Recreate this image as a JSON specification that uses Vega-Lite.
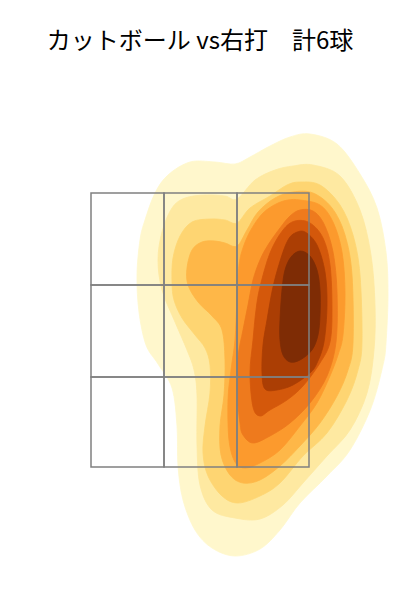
{
  "$schema": "https://vega.github.io/schema/vega-lite/v6.json",
  "width": 400,
  "height": 520,
  "autosize": {"type": "none"},
  "padding": {"top": 80, "left": 0, "right": 0, "bottom": 0},
  "background": "white",
  "title": {"text": "カットボール vs右打　計6球", "font": "Noto Sans CJK JP", "fontSize": 24, "fontWeight": "normal", "color": "#000000", "anchor": "middle", "frame": "group", "baseline": "bottom", "offset": 2},
  "config": {"view": {"stroke": null}},
  "datasets": {
    "contours": [
      {"level":1,"i":0,"x":0.88,"z":3.968},{"level":1,"i":1,"x":1.096,"z":3.888},{"level":1,"i":2,"x":1.28,"z":3.648},{"level":1,"i":3,"x":1.416,"z":3.376},{"level":1,"i":4,"x":1.488,"z":3.024},{"level":1,"i":5,"x":1.504,"z":2.68},{"level":1,"i":6,"x":1.488,"z":2.296},{"level":1,"i":7,"x":1.464,"z":2.12},{"level":1,"i":8,"x":1.368,"z":1.776},{"level":1,"i":9,"x":1.2,"z":1.44},{"level":1,"i":10,"x":1.016,"z":1.232},{"level":1,"i":11,"x":0.8,"z":1.016},{"level":1,"i":12,"x":0.64,"z":0.8},{"level":1,"i":13,"x":0.48,"z":0.648},{"level":1,"i":14,"x":0.28,"z":0.592},{"level":1,"i":15,"x":0.096,"z":0.656},{"level":1,"i":16,"x":-0.04,"z":0.8},{"level":1,"i":17,"x":-0.136,"z":1.04},{"level":1,"i":18,"x":-0.176,"z":1.312},{"level":1,"i":19,"x":-0.184,"z":1.632},{"level":1,"i":20,"x":-0.224,"z":1.936},{"level":1,"i":21,"x":-0.336,"z":2.128},{"level":1,"i":22,"x":-0.432,"z":2.28},{"level":1,"i":23,"x":-0.488,"z":2.544},{"level":1,"i":24,"x":-0.504,"z":2.84},{"level":1,"i":25,"x":-0.48,"z":3.12},{"level":1,"i":26,"x":-0.44,"z":3.28},{"level":1,"i":27,"x":-0.36,"z":3.496},{"level":1,"i":28,"x":-0.256,"z":3.64},{"level":1,"i":29,"x":-0.08,"z":3.744},{"level":1,"i":30,"x":0.12,"z":3.744},{"level":1,"i":31,"x":0.28,"z":3.728},{"level":1,"i":32,"x":0.4,"z":3.784},{"level":1,"i":33,"x":0.56,"z":3.872},{"level":1,"i":34,"x":0.72,"z":3.944},
      {"level":2,"i":0,"x":0.904,"z":3.72},{"level":2,"i":1,"x":1.12,"z":3.632},{"level":2,"i":2,"x":1.28,"z":3.36},{"level":2,"i":3,"x":1.368,"z":3.0},{"level":2,"i":4,"x":1.4,"z":2.6},{"level":2,"i":5,"x":1.392,"z":2.24},{"level":2,"i":6,"x":1.336,"z":1.896},{"level":2,"i":7,"x":1.2,"z":1.6},{"level":2,"i":8,"x":1.016,"z":1.392},{"level":2,"i":9,"x":0.824,"z":1.176},{"level":2,"i":10,"x":0.664,"z":1.0},{"level":2,"i":11,"x":0.48,"z":0.888},{"level":2,"i":12,"x":0.28,"z":0.896},{"level":2,"i":13,"x":0.096,"z":0.96},{"level":2,"i":14,"x":0.0,"z":1.16},{"level":2,"i":15,"x":-0.024,"z":1.48},{"level":2,"i":16,"x":-0.024,"z":1.88},{"level":2,"i":17,"x":-0.048,"z":2.08},{"level":2,"i":18,"x":-0.104,"z":2.24},{"level":2,"i":19,"x":-0.2,"z":2.464},{"level":2,"i":20,"x":-0.304,"z":2.72},{"level":2,"i":21,"x":-0.336,"z":2.96},{"level":2,"i":22,"x":-0.304,"z":3.184},{"level":2,"i":23,"x":-0.224,"z":3.376},{"level":2,"i":24,"x":-0.12,"z":3.456},{"level":2,"i":25,"x":0.04,"z":3.48},{"level":2,"i":26,"x":0.2,"z":3.472},{"level":2,"i":27,"x":0.296,"z":3.448},{"level":2,"i":28,"x":0.44,"z":3.6},{"level":2,"i":29,"x":0.6,"z":3.68},{"level":2,"i":30,"x":0.744,"z":3.712},
      {"level":3,"i":0,"x":0.8,"z":3.584},{"level":3,"i":1,"x":0.96,"z":3.56},{"level":3,"i":2,"x":1.12,"z":3.4},{"level":3,"i":3,"x":1.224,"z":3.16},{"level":3,"i":4,"x":1.28,"z":2.84},{"level":3,"i":5,"x":1.296,"z":2.304},{"level":3,"i":6,"x":1.264,"z":2.08},{"level":3,"i":7,"x":1.176,"z":1.84},{"level":3,"i":8,"x":1.016,"z":1.576},{"level":3,"i":9,"x":0.824,"z":1.392},{"level":3,"i":10,"x":0.64,"z":1.176},{"level":3,"i":11,"x":0.48,"z":1.072},{"level":3,"i":12,"x":0.304,"z":1.016},{"level":3,"i":13,"x":0.176,"z":1.072},{"level":3,"i":14,"x":0.064,"z":1.232},{"level":3,"i":15,"x":0.024,"z":1.416},{"level":3,"i":16,"x":0.04,"z":1.632},{"level":3,"i":17,"x":0.08,"z":1.896},{"level":3,"i":18,"x":0.08,"z":2.12},{"level":3,"i":19,"x":0.04,"z":2.256},{"level":3,"i":20,"x":-0.04,"z":2.36},{"level":3,"i":21,"x":-0.144,"z":2.496},{"level":3,"i":22,"x":-0.208,"z":2.64},{"level":3,"i":23,"x":-0.224,"z":2.784},{"level":3,"i":24,"x":-0.216,"z":2.976},{"level":3,"i":25,"x":-0.16,"z":3.152},{"level":3,"i":26,"x":-0.064,"z":3.264},{"level":3,"i":27,"x":0.08,"z":3.288},{"level":3,"i":28,"x":0.2,"z":3.28},{"level":3,"i":29,"x":0.296,"z":3.256},{"level":3,"i":30,"x":0.4,"z":3.376},{"level":3,"i":31,"x":0.56,"z":3.472},{"level":3,"i":32,"x":0.696,"z":3.56},
      {"level":4,"i":0,"x":0.744,"z":3.504},{"level":4,"i":1,"x":0.904,"z":3.496},{"level":4,"i":2,"x":1.056,"z":3.376},{"level":4,"i":3,"x":1.16,"z":3.16},{"level":4,"i":4,"x":1.216,"z":2.84},{"level":4,"i":5,"x":1.224,"z":2.296},{"level":4,"i":6,"x":1.184,"z":2.08},{"level":4,"i":7,"x":1.096,"z":1.872},{"level":4,"i":8,"x":0.96,"z":1.656},{"level":4,"i":9,"x":0.8,"z":1.472},{"level":4,"i":10,"x":0.64,"z":1.312},{"level":4,"i":11,"x":0.48,"z":1.2},{"level":4,"i":12,"x":0.344,"z":1.176},{"level":4,"i":13,"x":0.24,"z":1.24},{"level":4,"i":14,"x":0.168,"z":1.4},{"level":4,"i":15,"x":0.16,"z":1.632},{"level":4,"i":16,"x":0.192,"z":1.88},{"level":4,"i":17,"x":0.2,"z":2.16},{"level":4,"i":18,"x":0.176,"z":2.4},{"level":4,"i":19,"x":0.096,"z":2.512},{"level":4,"i":20,"x":-0.016,"z":2.624},{"level":4,"i":21,"x":-0.096,"z":2.76},{"level":4,"i":22,"x":-0.104,"z":2.896},{"level":4,"i":23,"x":-0.064,"z":3.04},{"level":4,"i":24,"x":0.016,"z":3.104},{"level":4,"i":25,"x":0.12,"z":3.112},{"level":4,"i":26,"x":0.2,"z":3.096},{"level":4,"i":27,"x":0.296,"z":3.072},{"level":4,"i":28,"x":0.376,"z":3.2},{"level":4,"i":29,"x":0.464,"z":3.344},{"level":4,"i":30,"x":0.6,"z":3.456},
      {"level":5,"i":0,"x":0.8,"z":3.44},{"level":5,"i":1,"x":0.96,"z":3.4},{"level":5,"i":2,"x":1.064,"z":3.264},{"level":5,"i":3,"x":1.136,"z":3.024},{"level":5,"i":4,"x":1.16,"z":2.704},{"level":5,"i":5,"x":1.144,"z":2.36},{"level":5,"i":6,"x":1.104,"z":2.2},{"level":5,"i":7,"x":1.04,"z":2.032},{"level":5,"i":8,"x":0.936,"z":1.816},{"level":5,"i":9,"x":0.8,"z":1.632},{"level":5,"i":10,"x":0.64,"z":1.44},{"level":5,"i":11,"x":0.48,"z":1.336},{"level":5,"i":12,"x":0.36,"z":1.296},{"level":5,"i":13,"x":0.28,"z":1.344},{"level":5,"i":14,"x":0.232,"z":1.52},{"level":5,"i":15,"x":0.224,"z":1.84},{"level":5,"i":16,"x":0.248,"z":2.08},{"level":5,"i":17,"x":0.28,"z":2.32},{"level":5,"i":18,"x":0.296,"z":2.64},{"level":5,"i":19,"x":0.312,"z":2.92},{"level":5,"i":20,"x":0.352,"z":3.08},{"level":5,"i":21,"x":0.416,"z":3.216},{"level":5,"i":22,"x":0.504,"z":3.336},{"level":5,"i":23,"x":0.608,"z":3.408},{"level":5,"i":24,"x":0.704,"z":3.44},
      {"level":6,"i":0,"x":0.8,"z":3.36},{"level":6,"i":1,"x":0.904,"z":3.352},{"level":6,"i":2,"x":0.992,"z":3.248},{"level":6,"i":3,"x":1.064,"z":3.024},{"level":6,"i":4,"x":1.096,"z":2.704},{"level":6,"i":5,"x":1.088,"z":2.304},{"level":6,"i":6,"x":1.016,"z":2.032},{"level":6,"i":7,"x":0.88,"z":1.816},{"level":6,"i":8,"x":0.72,"z":1.656},{"level":6,"i":9,"x":0.56,"z":1.552},{"level":6,"i":10,"x":0.424,"z":1.496},{"level":6,"i":11,"x":0.344,"z":1.56},{"level":6,"i":12,"x":0.32,"z":1.656},{"level":6,"i":13,"x":0.296,"z":1.92},{"level":6,"i":14,"x":0.304,"z":2.184},{"level":6,"i":15,"x":0.344,"z":2.4},{"level":6,"i":16,"x":0.384,"z":2.6},{"level":6,"i":17,"x":0.424,"z":2.8},{"level":6,"i":18,"x":0.48,"z":2.96},{"level":6,"i":19,"x":0.544,"z":3.08},{"level":6,"i":20,"x":0.64,"z":3.216},{"level":6,"i":21,"x":0.72,"z":3.312},
      {"level":7,"i":0,"x":0.76,"z":3.272},{"level":7,"i":1,"x":0.88,"z":3.256},{"level":7,"i":2,"x":0.984,"z":3.136},{"level":7,"i":3,"x":1.04,"z":2.92},{"level":7,"i":4,"x":1.056,"z":2.576},{"level":7,"i":5,"x":1.04,"z":2.304},{"level":7,"i":6,"x":0.96,"z":2.136},{"level":7,"i":7,"x":0.824,"z":1.952},{"level":7,"i":8,"x":0.696,"z":1.84},{"level":7,"i":9,"x":0.56,"z":1.76},{"level":7,"i":10,"x":0.48,"z":1.712},{"level":7,"i":11,"x":0.424,"z":1.784},{"level":7,"i":12,"x":0.4,"z":2.056},{"level":7,"i":13,"x":0.424,"z":2.32},{"level":7,"i":14,"x":0.448,"z":2.56},{"level":7,"i":15,"x":0.48,"z":2.744},{"level":7,"i":16,"x":0.56,"z":3.016},{"level":7,"i":17,"x":0.664,"z":3.2},
      {"level":8,"i":0,"x":0.76,"z":3.176},{"level":8,"i":1,"x":0.84,"z":3.184},{"level":8,"i":2,"x":0.936,"z":3.08},{"level":8,"i":3,"x":1.0,"z":2.864},{"level":8,"i":4,"x":1.016,"z":2.6},{"level":8,"i":5,"x":0.992,"z":2.304},{"level":8,"i":6,"x":0.936,"z":2.136},{"level":8,"i":7,"x":0.88,"z":2.056},{"level":8,"i":8,"x":0.744,"z":1.96},{"level":8,"i":9,"x":0.616,"z":1.92},{"level":8,"i":10,"x":0.52,"z":1.928},{"level":8,"i":11,"x":0.496,"z":2.056},{"level":8,"i":12,"x":0.504,"z":2.28},{"level":8,"i":13,"x":0.536,"z":2.48},{"level":8,"i":14,"x":0.584,"z":2.744},{"level":8,"i":15,"x":0.648,"z":2.976},{"level":8,"i":16,"x":0.704,"z":3.12},
      {"level":9,"i":0,"x":0.8,"z":3.032},{"level":9,"i":1,"x":0.88,"z":2.992},{"level":9,"i":2,"x":0.936,"z":2.88},{"level":9,"i":3,"x":0.96,"z":2.72},{"level":9,"i":4,"x":0.96,"z":2.52},{"level":9,"i":5,"x":0.944,"z":2.36},{"level":9,"i":6,"x":0.896,"z":2.24},{"level":9,"i":7,"x":0.8,"z":2.16},{"level":9,"i":8,"x":0.72,"z":2.144},{"level":9,"i":9,"x":0.664,"z":2.2},{"level":9,"i":10,"x":0.64,"z":2.32},{"level":9,"i":11,"x":0.64,"z":2.48},{"level":9,"i":12,"x":0.656,"z":2.72},{"level":9,"i":13,"x":0.68,"z":2.88},{"level":9,"i":14,"x":0.728,"z":2.984}
    ],
    "zone": [
      {"x":-0.872,"x2":-0.288,"z":3.496,"z2":2.76},{"x":-0.288,"x2":0.296,"z":3.496,"z2":2.76},{"x":0.296,"x2":0.872,"z":3.496,"z2":2.76},
      {"x":-0.872,"x2":-0.288,"z":2.76,"z2":2.024},{"x":-0.288,"x2":0.296,"z":2.76,"z2":2.024},{"x":0.296,"x2":0.872,"z":2.76,"z2":2.024},
      {"x":-0.872,"x2":-0.288,"z":2.024,"z2":1.304},{"x":-0.288,"x2":0.296,"z":2.024,"z2":1.304},{"x":0.296,"x2":0.872,"z":2.024,"z2":1.304}
    ]
  },
  "layer": [
    {
      "data": {"name": "contours"},
      "mark": {"type": "line", "strokeWidth": 0.8, "interpolate": "cardinal-closed"},
      "encoding": {
        "x": {"field": "x", "type": "quantitative", "scale": {"domain": [-1.6, 1.6], "nice": false, "zero": false}, "axis": null},
        "y": {"field": "z", "type": "quantitative", "scale": {"domain": [0.24, 4.4], "nice": false, "zero": false}, "axis": null},
        "detail": {"field": "level", "type": "ordinal"},
        "order": {"field": "i", "type": "quantitative"},
        "fill": {"field": "level", "type": "ordinal", "scale": {"domain": [1,2,3,4,5,6,7,8,9], "range": ["#fff7cc","#fee9a1","#fed572","#feb748","#fc9a2d","#ee7a1d","#d4580b","#ab3e04","#7e2c05"]}, "legend": null},
        "stroke": {"field": "level", "type": "ordinal", "scale": {"domain": [1,2,3,4,5,6,7,8,9], "range": ["#fff7cc","#fee9a1","#fed572","#feb748","#fc9a2d","#ee7a1d","#d4580b","#ab3e04","#7e2c05"]}, "legend": null}
      }
    },
    {
      "data": {"name": "zone"},
      "mark": {"type": "rect", "fill": null, "fillOpacity": 0, "stroke": "#808080", "strokeWidth": 1.5},
      "encoding": {
        "x": {"field": "x", "type": "quantitative"},
        "x2": {"field": "x2"},
        "y": {"field": "z", "type": "quantitative"},
        "y2": {"field": "z2"}
      }
    }
  ]
}
